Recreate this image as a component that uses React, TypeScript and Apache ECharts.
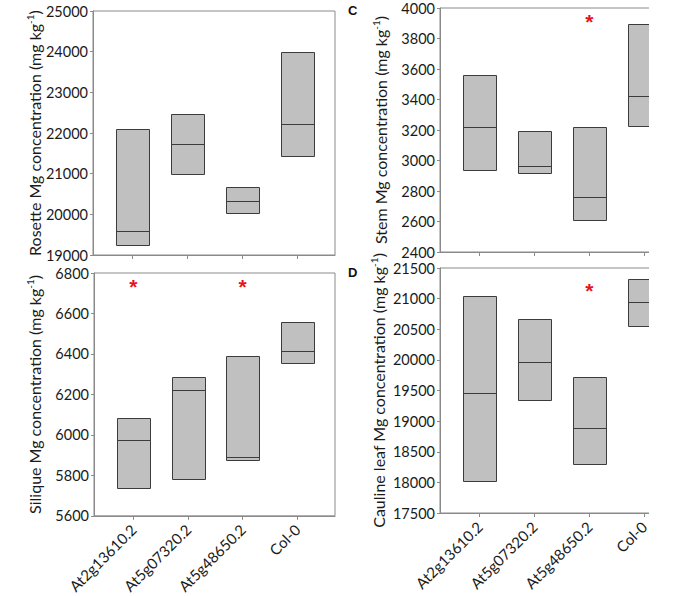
import React, { useEffect, useRef } from "react";
import * as echarts from "echarts";

const categories = ["At2g13610.2", "At5g07320.2", "At5g48650.2", "Col-0"];

// Rosette (top-left)
const rosetteLow = [19240, 21000, 20030, 21440];
const rosetteMedian = [19590, 21740, 20320, 22220];
const rosetteHigh = [22100, 22470, 20670, 24000];
const rosetteStars: number[][] = [];

// Stem (top-right, C)
const stemLow = [2940, 2915, 2610, 3225];
const stemMedian = [3222, 2965, 2758, 3425];
const stemHigh = [3558, 3195, 3218, 3895];
const stemStars = [[2, 3928]];

// Silique (bottom-left)
const siliqueLow = [5738, 5784, 5876, 6356];
const siliqueMedian = [5974, 6222, 5893, 6416];
const siliqueHigh = [6082, 6287, 6389, 6558];
const siliqueStars = [[0, 6748], [2, 6748]];

// Cauline leaf (bottom-right, D)
const caulineLow = [18015, 19340, 18300, 20555];
const caulineMedian = [19462, 19960, 18880, 20940];
const caulineHigh = [21040, 20670, 19715, 21315];
const caulineStars = [[2, 21189]];

const FONT = "Lato";
const FRAME = "#8a8a8a";
const TEXT = "#1a1a1a";

function boxData(lo: number[], med: number[], hi: number[]) {
  return lo.map((l, i) => [i, l, med[i], hi[i]]);
}

const renderBox = (_params: any, api: any) => {
  const x = api.value(0);
  const pLo = api.coord([x, api.value(1)]);
  const pMed = api.coord([x, api.value(2)]);
  const pHi = api.coord([x, api.value(3)]);
  const w = 33;
  return {
    type: "group",
    children: [
      {
        type: "rect",
        shape: { x: Math.round(pLo[0] - w / 2) + 0.5, y: Math.round(pHi[1]) + 0.5, width: w, height: Math.round(pLo[1]) - Math.round(pHi[1]) },
        style: { fill: "#c0c0c0", stroke: "#3c3c3c", lineWidth: 1 },
      },
      {
        type: "line",
        shape: { x1: Math.round(pMed[0] - w / 2) + 0.5, y1: Math.round(pMed[1]) + 0.5, x2: Math.round(pMed[0] + w / 2) + 0.5, y2: Math.round(pMed[1]) + 0.5 },
        style: { stroke: "#3c3c3c", lineWidth: 1 },
      },
    ],
  };
};

const renderStar = (_params: any, api: any) => {
  const p = api.coord([api.value(0), api.value(1)]);
  return {
    type: "text",
    x: p[0],
    y: p[1] + 3,
    style: { text: "*", fill: "#e8141b", fontSize: 21, fontWeight: "bold", fontFamily: "Liberation Sans", align: "center", verticalAlign: "middle" },
  };
};

export default function App() {
  const ref = useRef<HTMLDivElement>(null);
  useEffect(() => {
    document.body.style.margin = "0";
    const chart = echarts.init(ref.current!, null, { renderer: "svg" });

    const grids = [
      { left: 93, top: 11, width: 242, height: 244 },
      { left: 440, top: 8, width: 242, height: 244 },
      { left: 94, top: 273, width: 241, height: 243 },
      { left: 440, top: 268, width: 242, height: 245 },
    ].map((g) => ({ ...g, show: true, borderColor: FRAME, borderWidth: 1, backgroundColor: "transparent" }));

    const xAxis = [0, 1, 2, 3].map((i) => ({
      type: "value",
      gridIndex: i,
      min: -0.722,
      max: 3.69,
      splitLine: { show: false },
      axisLine: { show: true, onZero: false, lineStyle: { color: FRAME, width: 1 } },
      axisTick: { show: true, customValues: [0, 1, 2, 3], length: 4, lineStyle: { color: FRAME } },
      axisLabel: {
        show: i >= 2,
        customValues: [0, 1, 2, 3],
        rotate: 45,
        margin: 11,
        fontSize: 15,
        fontFamily: FONT,
        color: TEXT,
        formatter: (v: number) => categories[Math.round(v)] ?? "",
      },
    }));

    const names = [
      "Rosette Mg concentration (mg kg{sup|-1})",
      "Stem Mg concentration (mg kg{sup|-1})",
      "Silique Mg concentration (mg kg{sup|-1})",
      "Cauline leaf Mg concentration (mg kg{sup|-1})",
    ];
    const ranges = [
      [19000, 25000, 1000],
      [2400, 4000, 200],
      [5600, 6800, 200],
      [17500, 21500, 500],
    ];
    const gaps = [49, 50, 50, 52];
    const yAxis = [0, 1, 2, 3].map((i) => ({
      type: "value",
      gridIndex: i,
      min: ranges[i][0],
      max: ranges[i][1],
      interval: ranges[i][2],
      splitLine: { show: false },
      axisLine: { show: true, onZero: false, lineStyle: { color: FRAME, width: 1 } },
      axisTick: { show: true, length: 3, lineStyle: { color: FRAME } },
      axisLabel: { margin: 5, fontSize: 14.5, fontFamily: FONT, color: TEXT, formatter: (v: number) => String(v) },
      name: names[i],
      nameLocation: "middle",
      nameGap: gaps[i],
      nameTextStyle: {
        fontSize: 16,
        fontFamily: FONT,
        color: TEXT,
        rich: { sup: { fontSize: 10, fontFamily: FONT, color: TEXT, verticalAlign: "top", lineHeight: 19 } },
      },
    }));

    const boxes = [
      boxData(rosetteLow, rosetteMedian, rosetteHigh),
      boxData(stemLow, stemMedian, stemHigh),
      boxData(siliqueLow, siliqueMedian, siliqueHigh),
      boxData(caulineLow, caulineMedian, caulineHigh),
    ];
    const stars = [rosetteStars, stemStars, siliqueStars, caulineStars];

    const series: any[] = [];
    for (let i = 0; i < 4; i++) {
      series.push({
        type: "custom",
        xAxisIndex: i,
        yAxisIndex: i,
        renderItem: renderBox,
        encode: { x: 0, y: [1, 2, 3] },
        data: boxes[i],
        clip: false,
      });
      if (stars[i].length) {
        series.push({
          type: "custom",
          xAxisIndex: i,
          yAxisIndex: i,
          renderItem: renderStar,
          encode: { x: 0, y: 1 },
          data: stars[i],
          clip: false,
        });
      }
    }

    chart.setOption({
      animation: false,
      backgroundColor: "#ffffff",
      grid: grids,
      xAxis,
      yAxis,
      series,
      graphic: [
        { type: "rect", z: 100, shape: { x: 649, y: 0, width: 60, height: 596 }, style: { fill: "#ffffff" } },
        { type: "text", z: 101, x: 348, y: 4, style: { text: "C", fontSize: 13, fontWeight: "bold", fontFamily: "Liberation Sans", fill: "#111" } },
        { type: "text", z: 101, x: 348, y: 266, style: { text: "D", fontSize: 13, fontWeight: "bold", fontFamily: "Liberation Sans", fill: "#111" } },
      ],
    });
    return () => chart.dispose();
  }, []);
  return <div ref={ref} style={{ position: "fixed", left: 0, top: 0, width: 688, height: 596 }} />;
}
